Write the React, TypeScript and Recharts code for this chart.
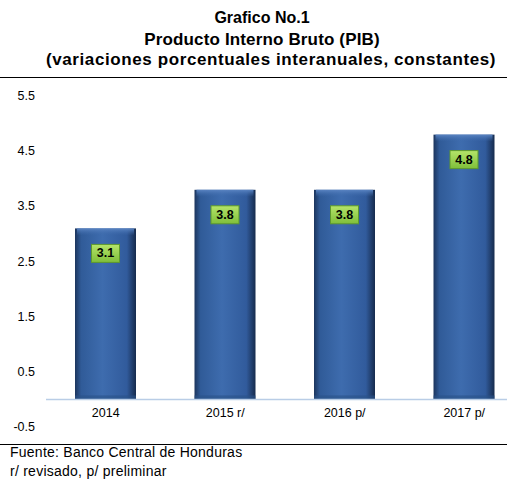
import React from 'react'
import {
  BarChart,
  Bar,
  XAxis,
  YAxis,
  ReferenceLine,
  LabelList
} from 'recharts'

// Data
const years = ['2014', '2015 r/', '2016 p/', '2017 p/']
const pibGrowth = [3.1, 3.8, 3.8, 4.8]
const yTicks = [-0.5, 0.5, 1.5, 2.5, 3.5, 4.5, 5.5]

const titleLines = [
  'Grafico No.1',
  'Producto Interno Bruto (PIB)',
  '(variaciones porcentuales interanuales, constantes)'
]
const notes = ['Fuente: Banco Central de Honduras', 'r/ revisado, p/ preliminar']

const chartData = years.map((year, i) => ({ year, value: pibGrowth[i] }))

const FONT = '"Liberation Sans", Arial, sans-serif'

// 3D-ish blue column
const BlueBar = (props: any) => {
  const { x, y, width, height } = props
  if (height <= 0) return null
  return (
    <g>
      <rect x={x} y={y} width={width} height={height} fill="url(#barSide)" />
      <rect x={x + 2} y={y} width={width - 4} height={7} fill="url(#barTop)" />
      <rect x={x} y={y + height - 4} width={width} height={4} fill="#2a5187" opacity={0.6} />
    </g>
  )
}

// Green value box near the top of each bar
const ValueBox = (props: any) => {
  const { x, y, width, value } = props
  const cx = x + width / 2
  const cy = y + 25
  return (
    <g>
      <rect x={cx - 14} y={cy - 9} width={28} height={18} fill="url(#boxGreen)" stroke="#5f9a2c" strokeWidth={1} />
      <text
        x={cx}
        y={cy}
        textAnchor="middle"
        dominantBaseline="central"
        fontFamily={FONT}
        fontWeight="bold"
        fontSize={12.5}
        fill="#000"
      >
        {Number(value).toFixed(1)}
      </text>
    </g>
  )
}

const YearTick = (props: any) => {
  const { x, y, payload } = props
  return (
    <text
      x={x}
      y={y - 22}
      textAnchor="middle"
      dominantBaseline="central"
      fontFamily={FONT}
      fontSize={12.5}
      fill="#000"
    >
      {payload.value}
    </text>
  )
}

const ValueTick = (props: any) => {
  const { y, payload } = props
  return (
    <text
      x={35}
      y={y}
      textAnchor="end"
      dominantBaseline="central"
      fontFamily={FONT}
      fontSize={12.5}
      fill="#000"
    >
      {payload.value.toFixed(1)}
    </text>
  )
}

const App = () => {
  return (
    <div
      style={{
        position: 'absolute',
        left: 0,
        top: 0,
        width: 507,
        height: 484,
        overflow: 'hidden',
        background: '#fff',
        fontFamily: FONT
      }}
    >
      <svg width={0} height={0} style={{ position: 'absolute' }}>
        <defs>
          <linearGradient id="barSide" x1="0" y1="0" x2="1" y2="0">
            <stop offset="0%" stopColor="#1c355d" />
            <stop offset="10%" stopColor="#305b98" />
            <stop offset="45%" stopColor="#3e6cae" />
            <stop offset="85%" stopColor="#315b9c" />
            <stop offset="100%" stopColor="#162b4d" />
          </linearGradient>
          <linearGradient id="barTop" x1="0" y1="0" x2="0" y2="1">
            <stop offset="0%" stopColor="#5a84c2" />
            <stop offset="100%" stopColor="#3d6aab" stopOpacity={0} />
          </linearGradient>
          <linearGradient id="boxGreen" x1="0" y1="0" x2="0" y2="1">
            <stop offset="0%" stopColor="#b5e46a" />
            <stop offset="100%" stopColor="#7fbf3a" />
          </linearGradient>
        </defs>
      </svg>

      {/* Titles */}
      {titleLines.map((line, i) => (
        <div
          key={line}
          style={{
            position: 'absolute',
            left: 0,
            width: [524, 524, 542][i],
            top: [8, 30, 50][i],
            textAlign: 'center',
            fontWeight: 'bold',
            fontSize: i === 0 ? 16 : 17,
            letterSpacing: [0, 0.15, 0.6][i],
            lineHeight: '20px',
            color: '#000',
            whiteSpace: 'nowrap'
          }}
        >
          {line}
        </div>
      ))}
      <div style={{ position: 'absolute', left: 0, top: 77, width: 507, height: 1, background: '#000' }} />

      <div style={{ position: 'absolute', left: 0, top: 0 }}>
        <BarChart
          width={525}
          height={441}
          data={chartData}
          margin={{ top: 96, right: 1, left: 0, bottom: 0 }}
        >
          <XAxis
            dataKey="year"
            axisLine={false}
            tickLine={false}
            height={14}
            tick={<YearTick />}
            interval={0}
          />
          <YAxis
            domain={[-0.5, 5.5]}
            ticks={yTicks}
            axisLine={false}
            tickLine={false}
            width={46}
            tick={<ValueTick />}
            interval={0}
          />
          <ReferenceLine y={0} stroke="#b9cde6" strokeWidth={1.5} />
          <Bar dataKey="value" barSize={61} shape={<BlueBar />} isAnimationActive={false}>
            <LabelList dataKey="value" content={<ValueBox />} />
          </Bar>
        </BarChart>
      </div>

      <div style={{ position: 'absolute', left: 0, top: 444, width: 507, height: 1, background: '#000' }} />
      {notes.map((note, i) => (
        <div
          key={note}
          style={{
            position: 'absolute',
            left: 10,
            top: [444, 463][i],
            fontSize: 14,
            letterSpacing: 0.25,
            lineHeight: '17px',
            color: '#000',
            whiteSpace: 'nowrap'
          }}
        >
          {note}
        </div>
      ))}
    </div>
  )
}

export default App
